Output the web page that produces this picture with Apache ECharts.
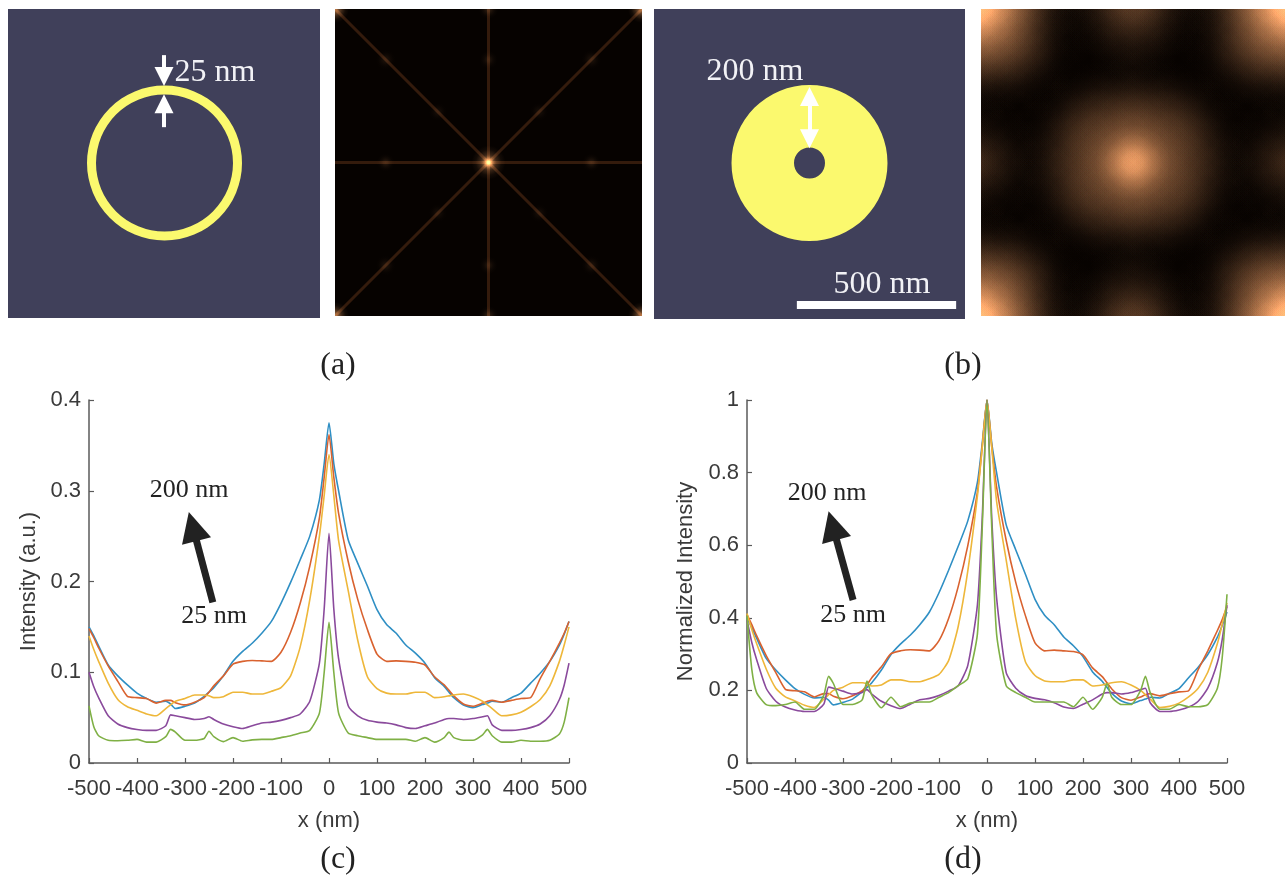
<!DOCTYPE html>
<html>
<head>
<meta charset="utf-8">
<style>html,body{margin:0;padding:0;background:#fff;overflow:hidden}#c{width:1285px;height:876px}</style>
<script src="https://cdn.jsdelivr.net/npm/echarts@6/dist/echarts.min.js"></script>
</head>
<body>
<div id="c"></div>
<script>
// ---------- line-profile data ----------
const xNm = [-500,-490,-480,-460,-440,-420,-400,-380,-360,-340,-330,-320,-300,-280,-260,-250,-240,-220,-200,-180,-160,-140,-120,-100,-80,-60,-40,-20,-10,0,10,20,40,60,80,100,120,140,160,180,200,220,240,250,260,280,300,320,330,340,360,380,400,420,440,460,480,490,500];
const intensity200 = [.150,.140,.129,.108,.096,.086,.077,.071,.067,.068,.065,.060,.0625,.066,.0735,.078,.083,.096,.112,.123,.132,.143,.156,.176,.199,.224,.250,.290,.330,.375,.330,.300,.246,.220,.195,.169,.1525,.143,.130,.121,.110,.094,.0845,.078,.072,.064,.061,.0645,.066,.068,.067,.072,.077,.088,.099,.112,.130,.142,.156];
const intensity150 = [.148,.138,.127,.107,.090,.0735,.072,.071,.066,.069,.069,.0665,.064,.067,.072,.078,.085,.096,.109,.112,.113,.1125,.112,.122,.144,.176,.217,.270,.315,.362,.315,.275,.222,.180,.147,.120,.112,.1125,.112,.111,.108,.095,.086,.080,.074,.065,.0625,.066,.068,.069,.067,.069,.071,.072,.093,.112,.132,.143,.156];
const intensity100 = [.140,.125,.112,.088,.070,.062,.058,.054,.052,.060,.064,.068,.071,.075,.075,.074,.072,.073,.078,.078,.076,.076,.079,.083,.096,.128,.180,.250,.295,.340,.295,.245,.190,.135,.095,.082,.077,.076,.076,.078,.078,.072,.073,.074,.075,.076,.073,.068,.064,.060,.052,.053,.056,.062,.070,.085,.112,.130,.150];
const intensity50 = [.100,.084,.072,.052,.043,.039,.037,.036,.036,.041,.053,.052,.050,.048,.049,.051,.048,.043,.040,.038,.041,.044,.045,.047,.050,.054,.068,.110,.170,.253,.170,.115,.063,.052,.047,.045,.044,.042,.039,.038,.041,.044,.048,.049,.049,.048,.049,.051,.052,.042,.036,.036,.037,.039,.043,.052,.070,.086,.110];
const intensity25 = [.063,.040,.030,.025,.0245,.025,.026,.023,.023,.029,.037,.034,.025,.025,.027,.035,.029,.0235,.028,.024,.0255,.026,.026,.028,.030,.033,.036,.055,.100,.155,.100,.055,.033,.030,.028,.026,.026,.026,.026,.024,.028,.023,.028,.034,.028,.025,.025,.031,.037,.030,.023,.023,.025,.024,.024,.025,.032,.045,.072];

const normalized200 = [.40,.373,.344,.288,.256,.229,.205,.189,.179,.181,.173,.160,.167,.176,.196,.208,.221,.256,.299,.328,.352,.381,.416,.469,.531,.597,.667,.773,.88,1,.88,.80,.656,.587,.52,.451,.407,.381,.347,.323,.293,.251,.225,.208,.192,.171,.163,.172,.176,.181,.179,.192,.205,.235,.264,.299,.347,.379,.416];
const normalized150 = [.409,.381,.351,.296,.249,.203,.199,.196,.182,.191,.191,.184,.177,.185,.199,.215,.235,.265,.301,.309,.312,.311,.309,.337,.398,.486,.599,.746,.87,1,.87,.76,.613,.497,.406,.331,.309,.311,.309,.307,.298,.262,.238,.221,.204,.180,.173,.182,.188,.191,.185,.191,.196,.199,.257,.309,.365,.395,.431];
const normalized100 = [.412,.368,.329,.259,.206,.182,.171,.159,.153,.176,.188,.20,.209,.221,.221,.218,.212,.215,.229,.229,.224,.224,.232,.244,.282,.376,.529,.735,.868,1,.868,.721,.559,.397,.279,.241,.226,.224,.224,.229,.229,.212,.215,.218,.221,.224,.215,.20,.188,.176,.153,.156,.165,.182,.206,.25,.329,.382,.441];
const normalized50 = [.395,.332,.285,.206,.170,.154,.146,.142,.142,.162,.209,.206,.198,.19,.194,.202,.19,.17,.158,.15,.162,.174,.178,.186,.198,.213,.269,.435,.672,1,.672,.455,.249,.206,.186,.178,.174,.166,.154,.15,.162,.174,.19,.194,.194,.19,.194,.202,.206,.166,.142,.142,.146,.154,.17,.206,.277,.34,.435];
const normalized25 = [.406,.258,.194,.161,.158,.161,.168,.148,.148,.187,.239,.219,.161,.161,.174,.226,.187,.152,.181,.155,.165,.168,.168,.181,.194,.213,.232,.355,.645,1,.645,.355,.213,.194,.181,.168,.168,.168,.168,.155,.181,.148,.181,.219,.181,.161,.161,.2,.239,.194,.148,.148,.161,.155,.155,.161,.206,.29,.465];

const lineColors = ['#2f8fc4','#d9622f','#eeb73a','#8a4a9c','#7fb045'];
const xTicks = {min:-500,max:500,interval:100};

// ---------- diffraction pattern (b): intensity in hundredths, rows top to bottom ----------
const patternB = [
[130,130,85,55,25,5,5,10,30,40,30,10,5,5,25,55,85,130,130],
[130,130,85,55,25,5,5,10,30,40,30,10,5,5,25,55,85,130,130],
[85,85,62,42,20,4,2,5,15,22,15,5,2,4,20,42,62,85,85],
[55,55,48,38,18,3,1,2,6,10,6,2,1,3,18,38,48,55,55],
[30,30,28,20,10,2,0,0,2,4,2,0,0,2,10,20,28,30,30],
[8,8,6,4,2,1,2,4,6,8,6,4,2,1,2,4,6,8,8],
[2,2,1,1,1,2,12,20,25,30,25,20,12,2,1,1,1,2,2],
[5,5,3,1,2,10,25,32,36,40,36,32,25,10,2,1,3,5,5],
[15,15,8,3,3,15,30,38,48,68,48,38,30,15,3,3,8,15,15],
[30,30,15,5,5,18,30,42,68,150,68,42,30,18,5,5,15,30,30],
[15,15,8,3,3,15,30,38,48,68,48,38,30,15,3,3,8,15,15],
[5,5,3,1,2,10,25,32,36,40,36,32,25,10,2,1,3,5,5],
[2,2,1,1,1,2,12,20,25,30,25,20,12,2,1,1,1,2,2],
[8,8,6,4,2,1,2,4,6,8,6,4,2,1,2,4,6,8,8],
[30,30,28,20,10,2,0,0,2,4,2,0,0,2,10,20,28,30,30],
[55,55,48,38,18,3,1,2,6,10,6,2,1,3,18,38,48,55,55],
[85,85,62,42,20,4,2,5,15,22,15,5,2,4,20,42,62,85,85],
[130,130,85,55,25,5,5,10,30,40,30,10,5,5,25,55,85,130,130],
[130,130,85,55,25,5,5,10,30,40,30,10,5,5,25,55,85,130,130]
];

// ---------- diffraction pattern (a): streaks and bright spots, panel half-width = 1 ----------
const streaks = [[[-1,-1],[1,1]],[[-1,1],[1,-1]],[[-1,0],[1,0]],[[0,-1],[0,1]]];
const spotsA = [
[0,0,.5,34],[0,0,.7,15],
[-1,1,.55,28],[1,1,.55,28],[-1,-1,.55,28],[1,-1,.55,28],
[-.67,.67,.09,20],[.67,.67,.09,20],[-.67,-.67,.09,20],[.67,-.67,.09,20],
[-.33,.33,.07,18],[.33,.33,.07,18],[-.33,-.33,.07,18],[.33,-.33,.07,18],
[-.67,0,.12,18],[.67,0,.12,18],[0,.67,.1,18],[0,-.67,.1,18],
[0,1,.16,20],[0,-1,.16,20]
];

const arrowsA = [[[0,343],[0,275]],[[0,115],[0,189]]];
const arrowB = [[0,213],[0,80]];
const scaleBar = [[-40,-446],[464,-446]];
const arrowC = [[-242,.177],[-284,.2606]];
const arrowD = [[-279,.449],[-321.7,.654]];

const sans = '"Liberation Sans", Arial, sans-serif';
const serif = '"Liberation Serif", "Times New Roman", serif';
const navy = '#40405a', yellow = '#fbf96e';

function blob(v, rgb){
  const a = k => `rgba(${rgb},${(v*k).toFixed(4)})`;
  return {type:'radial',x:.5,y:.5,r:.5,colorStops:[
    {offset:0,color:a(1)},{offset:.25,color:a(.78)},{offset:.5,color:a(.37)},
    {offset:.75,color:a(.1)},{offset:1,color:a(0)}]};
}

const patternPoints = [];
patternB.forEach((row,r)=>row.forEach((v,c)=>{ if(v>0) patternPoints.push([c-9, 9-r, v/100]); }));

const hiddenAxis = (gridIndex,min,max)=>({type:'value',gridIndex,min,max,show:false});
const plotAxisBase = {
  axisLine:{onZero:false,lineStyle:{color:'#5a5a5a',width:1.5}},
  axisTick:{inside:true,length:5,lineStyle:{color:'#5a5a5a',width:1.2}},
  splitLine:{show:false},
  axisLabel:{color:'#3a3a3a',fontFamily:sans,fontSize:22,margin:15,hideOverlap:false},
  nameTextStyle:{color:'#3a3a3a',fontFamily:sans,fontSize:22},
  nameLocation:'middle'
};
const yLabel = {color:'#3a3a3a',fontFamily:sans,fontSize:22,margin:8};

function profile(name,values,i,ax){
  return {name,type:'line',xAxisIndex:ax,yAxisIndex:ax,data:xNm.map((x,k)=>[x,values[k]]),
    showSymbol:false,symbol:'none',smooth:.2,silent:true,z:3,
    lineStyle:{color:lineColors[i],width:1.6}};
}
function arrow(ax,coords,sym,size,color,width){
  return {type:'lines',coordinateSystem:'cartesian2d',xAxisIndex:ax,yAxisIndex:ax,silent:true,z:9,
    symbol:sym,symbolSize:size,lineStyle:{color,width,opacity:1,curveness:0},
    data:[].concat(coords).map(c=>({coords:c}))};
}
function txt(text,x,y,size,fill){
  return {type:'text',z:50,silent:true,style:{text,x,y,fill:fill||'#222',font:`${size}px ${serif}`,textAlign:'center',textVerticalAlign:'middle'}};
}

const option = {
  backgroundColor:'#fff',
  animation:false,
  grid:[
    {left:8,top:9,width:312,height:309,show:true,backgroundColor:navy,borderWidth:0,z:5},
    {left:335,top:9,width:307,height:307,show:true,backgroundColor:'#060200',borderWidth:0},
    {left:654,top:9,width:311,height:310,show:true,backgroundColor:navy,borderWidth:0,z:5},
    {left:981,top:9,width:304,height:307,show:true,backgroundColor:'#060200',borderWidth:0},
    {left:89,top:400,width:480,height:363},
    {left:747,top:400,width:480,height:363}
  ],
  xAxis:[
    hiddenAxis(0,-493.5,493.5),hiddenAxis(1,-1,1),hiddenAxis(2,-492,492),hiddenAxis(3,-8,8),
    Object.assign({type:'value',gridIndex:4,name:'x (nm)',nameGap:47},xTicks,plotAxisBase),
    Object.assign({type:'value',gridIndex:5,name:'x (nm)',nameGap:47},xTicks,plotAxisBase)
  ],
  yAxis:[
    hiddenAxis(0,-489,489),hiddenAxis(1,-1,1),hiddenAxis(2,-490,490),hiddenAxis(3,-8.08,8.08),
    Object.assign({type:'value',gridIndex:4,min:0,max:.4,interval:.1,name:'Intensity (a.u.)',nameGap:49},plotAxisBase,{axisLabel:yLabel}),
    Object.assign({type:'value',gridIndex:5,min:0,max:1,interval:.2,name:'Normalized Intensity',nameGap:50},plotAxisBase,{axisLabel:yLabel})
  ],
  series:[
    // ring and disc
    {type:'pie',center:[164.5,163],radius:[68.5,77.5],silent:true,z:7,label:{show:false},labelLine:{show:false},itemStyle:{color:yellow},data:[{value:1}]},
    {type:'pie',center:[809.5,163],radius:[15.5,78],silent:true,z:7,label:{show:false},labelLine:{show:false},itemStyle:{color:yellow},data:[{value:1}]},
    arrow(0,arrowsA,['none','triangle'],19,'#fff',4),
    arrow(2,[arrowB],['triangle','triangle'],19,'#fff',4),
    arrow(2,[scaleBar],['none','none'],0,'#fff',8),
    // pattern (a)
    ...streaks.map(s=>({type:'line',xAxisIndex:1,yAxisIndex:1,data:s,symbol:'none',silent:true,z:2,blendMode:'lighter',
      lineStyle:{color:'rgb(46,25,12)',width:3}})),
    {type:'scatter',xAxisIndex:1,yAxisIndex:1,clip:false,silent:true,z:3,blendMode:'lighter',data:spotsA,
      symbolSize:p=>p[3],encode:{x:0,y:1},itemStyle:{opacity:1,color:p=>blob(p.data[2],'255,175,110')}},
    // pattern (b)
    {type:'scatter',xAxisIndex:3,yAxisIndex:3,clip:false,silent:true,z:2,blendMode:'lighter',data:patternPoints,
      symbolSize:76,itemStyle:{opacity:1,color:p=>blob(p.data[2]/3.1,'255,170,110')}},
    // profiles
    profile('200 nm',intensity200,0,4),profile('150 nm',intensity150,1,4),profile('100 nm',intensity100,2,4),profile('50 nm',intensity50,3,4),profile('25 nm',intensity25,4,4),
    profile('200 nm',normalized200,0,5),profile('150 nm',normalized150,1,5),profile('100 nm',normalized100,2,5),profile('50 nm',normalized50,3,5),profile('25 nm',normalized25,4,5),
    arrow(4,[arrowC],['none','triangle'],30,'#222',7),
    arrow(5,[arrowD],['none','triangle'],30,'#222',7)
  ],
  graphic:{elements:[
    txt('25 nm',215,73,32,'#f2f2f6'),
    txt('200 nm',755,72,32,'#f2f2f6'),
    txt('500 nm',882,285,32,'#f2f2f6'),
    txt('(a)',338,366,32),txt('(b)',963,366,32),txt('(c)',338,860,32),txt('(d)',963,860,32),
    txt('200 nm',189,490,26),txt('25 nm',214,616,26),
    txt('200 nm',827,493,26),txt('25 nm',853,615,26)
  ]}
};
const chart = echarts.init(document.getElementById('c'),null,{renderer:'canvas',width:1285,height:876});
chart.setOption(option);
</script>
</body>
</html>
